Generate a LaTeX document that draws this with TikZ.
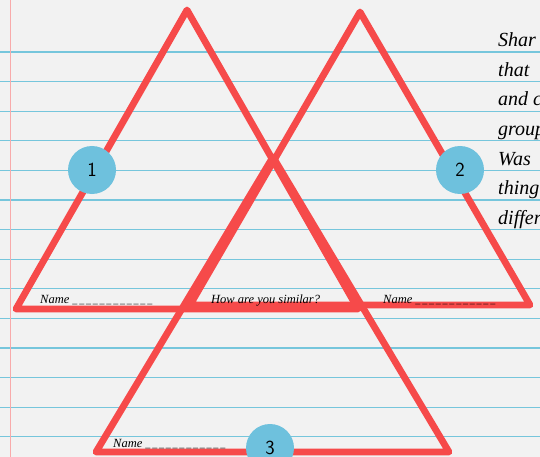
\documentclass[tikz,border=0pt]{standalone}
\usepackage{fontspec}
\newfontfamily\hand{Liberation Serif}
\definecolor{paper}{RGB}{242,242,242}
\definecolor{ruled}{RGB}{118,198,220}
\definecolor{margin}{RGB}{248,170,170}
\definecolor{tri}{RGB}{246,74,74}
\definecolor{dot}{RGB}{110,193,221}
\newcommand\oneblank{{\fontsize{10}{10}\selectfont\_}\kern1.8pt}
\newcommand\blanks{\oneblank\oneblank\oneblank\oneblank\oneblank\oneblank\oneblank\oneblank\oneblank\oneblank\oneblank\oneblank}
\tikzset{
  rule/.style={draw=ruled, line width=1.2pt},
  trishape/.style={draw=tri, line width=6.8pt, line join=round},
  namelabel/.style={anchor=base west, inner sep=0pt, font=\fontsize{12.5}{14}\selectfont\hand\itshape},
  badge/.style={circle, fill=dot, minimum size=48pt, inner sep=0pt, font=\fontsize{20}{20}\selectfont\sffamily},
  sidetext/.style={anchor=base west, inner sep=0pt, font=\fontsize{20}{22}\selectfont\hand\itshape}
}
\begin{document}
\begin{tikzpicture}[x=1pt,y=-1pt]
\useasboundingbox (0,0) rectangle (540,457);
\fill[paper] (0,0) rectangle (540,457);
\foreach \k in {0,...,13}{
  \draw[rule] (0,{52+29.6*\k}) -- (540,{52+29.6*\k});
}
\draw[margin, line width=1pt] (10,0) -- (10,457);
% triangle 1
\coordinate (a1) at (187,10);
\coordinate (l1) at (16,309);
\coordinate (r1) at (358,309);
% triangle 2
\coordinate (a2) at (360,12);
\coordinate (l2) at (190,305);
\coordinate (r2) at (530,305);
% triangle 3
\coordinate (a3) at (273,157);
\coordinate (l3) at (96,452);
\coordinate (r3) at (449,452);
\draw[trishape] (a1) -- (l1) -- (r1) -- cycle;
\draw[trishape] (a2) -- (l2) -- (r2) -- cycle;
\draw[trishape] (a3) -- (l3) -- (r3) -- cycle;
% labels
\node[namelabel] (n1) at (40,303) {Name \blanks};
\node[namelabel] (sim) at (211,303) {How are you similar?};
\node[namelabel] (n2) at (383,303) {Name \blanks};
\node[namelabel] (n3) at (113,447) {Name \blanks};
% badges
\node[badge] (b1) at (92,170) {1};
\node[badge] (b2) at (460,170) {2};
\node[badge] (b3) at (270,448) {3};
% side text
\node[sidetext] (s1) at (498,47) {Shar};
\node[sidetext] (s2) at (498,76.2) {that};
\node[sidetext] (s3) at (498,105.8) {and c};
\node[sidetext] (s4) at (498,135.4) {group};
\node[sidetext] (s5) at (498,165) {Was};
\node[sidetext] (s6) at (498,194.6) {thing};
\node[sidetext] (s7) at (498,224.2) {differ};
\end{tikzpicture}
\end{document}
